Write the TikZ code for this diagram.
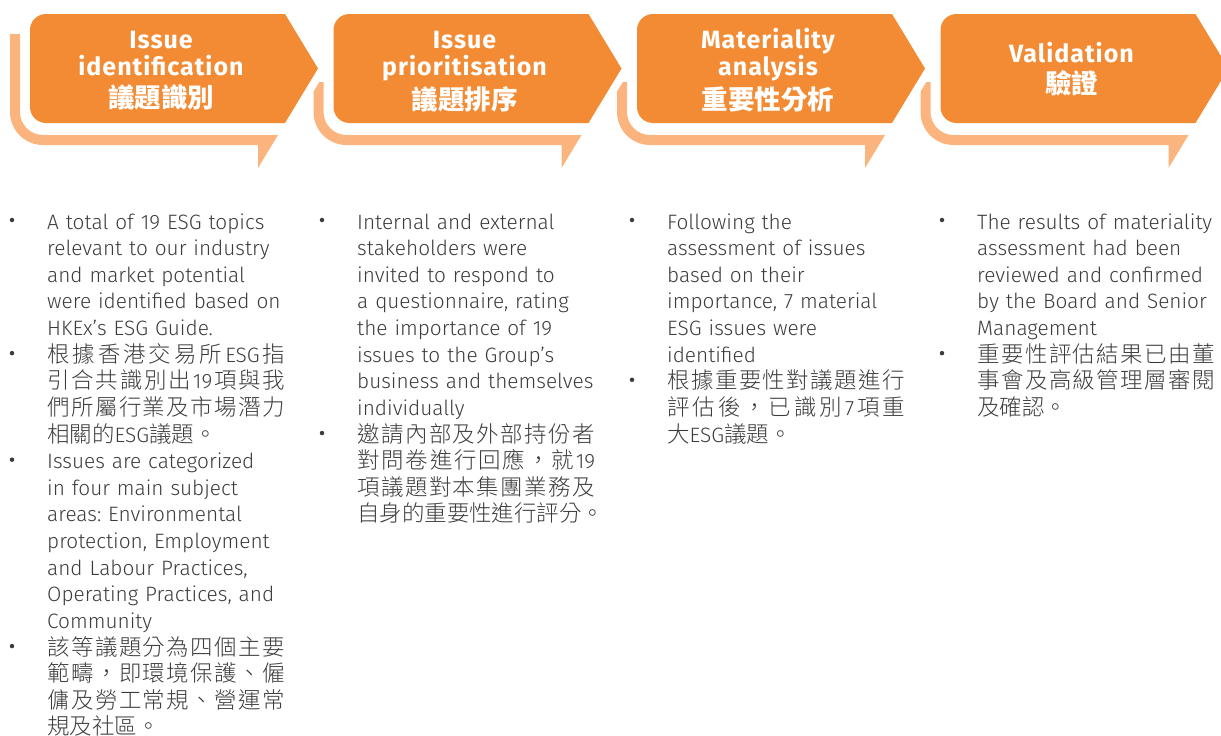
\documentclass[tikz,border=0pt]{standalone}
\usepackage{fontspec}
\IfFontExistsTF{Fira Sans Light}{\newfontfamily\bodyfont{Fira Sans Light}}{\newfontfamily\bodyfont{Fira Sans}}
\IfFontExistsTF{Noto Sans CJK TC Light}{\newfontfamily\bodycjk{Noto Sans CJK TC Light}[Scale=1.08]}{\newfontfamily\bodycjk{Noto Sans CJK TC}[Scale=1.08]}
\newfontfamily\headfont{Fira Sans}[LetterSpace=4]
\newfontfamily\headcjk{Noto Sans CJK TC}[Scale=1.06]
\definecolor{mainor}{RGB}{243,139,52}
\definecolor{lightor}{RGB}{251,180,125}
\definecolor{bodygray}{RGB}{60,60,60}
\frenchspacing
\newcommand\lat{\bodyfont}
\newcommand\cj[1]{{\bodycjk #1}}
\makeatletter
\newcommand\cjkline[1]{\leavevmode\hbox to \linewidth{\@tempswafalse\@tfor\cjktok:=#1\do{\if@tempswa\hfil\fi\@tempswatrue{\bodycjk\cjktok}}}}
\makeatother
\tikzset{
  bodytext/.style={anchor=base west, inner sep=0pt, text width=238pt, align=left, text=bodygray, font=\bodyfont\fontsize{20.8}{26.63}\selectfont\frenchspacing},
  bul/.style={circle, fill=bodygray, inner sep=0pt, minimum size=4.5pt},
  headtext/.style={anchor=base, inner sep=0pt, text width=260pt, align=center, text=white, font=\headfont\bfseries\fontsize{25}{27}\selectfont},
  mainshape/.style={fill=mainor},
  halo/.style={draw=white, line width=16pt, line join=round},
  lshape/.style={fill=lightor}
}
\begin{document}
\begin{tikzpicture}[x=1pt,y=1pt]
\useasboundingbox (0,0) rectangle (1221,-736);
% light L-shaped bars
\foreach \X/\T in {30/34, 333.5/82, 637/82, 940.5/82}{
  \path[lshape] ({\X-20},-\T) -- ({\X-20},-112) arc(180:270:33) -- ({\X+228},-145) -- ({\X+228},-168) -- ({\X+248},-135) -- ({\X+13},-135) arc(270:180:23) -- ({\X-10},-\T) -- cycle;
}
% main arrow shapes
\foreach \X in {30, 333.5, 637, 940.5}{
  \path[halo] ({\X+288},-68.5) -- ({\X+255},-14) -- ({\X+16},-14) arc(90:180:16) -- (\X,-107) arc(180:270:16) -- ({\X+255},-123) -- cycle;
  \path[mainshape] ({\X+288},-68.5) -- ({\X+255},-14) -- ({\X+16},-14) arc(90:180:16) -- (\X,-107) arc(180:270:16) -- ({\X+255},-123) -- cycle;
}
% headings
\node[headtext] (h1) at (161,-48) {Issue\\identification\\[5pt]{\headcjk 議題識別}};
\node[headtext] (h2) at (464.5,-48) {Issue\\prioritisation\\[5pt]{\headcjk 議題排序}};
\node[headtext] (h3) at (768,-48) {Materiality\\analysis\\[5pt]{\headcjk 重要性分析}};
\node[headtext] (h4) at (1071.5,-62) {Validation\\[4pt]{\headcjk 驗證}};
% column 1
\node[bul] (b11) at (12,-220) {};
\node[bodytext] (t11) at (47,-229) {A total of 19 ESG topics\\relevant to our industry\\and market potential\\were identified based on\\HKEx’s ESG Guide.};
\node[bul] (b12) at (12,-353.15) {};
\node[bodytext] (t12) at (47,-362.15) {\cjkline{根據香港交易所{\lat ESG}指}\\\cjkline{引合共識別出{\lat 19}項與我}\\\cjkline{們所屬行業及市場潛力}\\\cj{相關的}ESG\cj{議題。}};
\node[bul] (b13) at (12,-459.67) {};
\node[bodytext] (t13) at (47,-468.67) {Issues are categorized\\in four main subject\\areas: Environmental\\protection, Employment\\and Labour Practices,\\Operating Practices, and\\Community};
\node[bul] (b14) at (12,-646.08) {};
\node[bodytext] (t14) at (47,-655.08) {\cjkline{該等議題分為四個主要}\\\cjkline{範疇，即環境保護、僱}\\\cjkline{傭及勞工常規、營運常}\\\cj{規及社區。}};
% column 2
\node[bul] (b21) at (322,-220) {};
\node[bodytext] (t21) at (357,-229) {Internal and external\\stakeholders were\\invited to respond to\\a questionnaire, rating\\the importance of 19\\issues to the Group’s\\business and themselves\\individually};
\node[bul] (b22) at (322,-433.04) {};
\node[bodytext] (t22) at (357,-442.04) {\cjkline{邀請內部及外部持份者}\\\cjkline{對問卷進行回應，就{\lat 19}}\\\cjkline{項議題對本集團業務及}\\\cj{自身的重要性進行評分。}};
% column 3
\node[bul] (b31) at (632,-220) {};
\node[bodytext] (t31) at (667,-229) {Following the\\assessment of issues\\based on their\\importance, 7 material\\ESG issues were\\identified};
\node[bul] (b32) at (632,-379.78) {};
\node[bodytext] (t32) at (667,-388.78) {\cjkline{根據重要性對議題進行}\\\cjkline{評估後，已識別{\lat 7}項重}\\\cj{大}ESG\cj{議題。}};
% column 4
\node[bul] (b41) at (942,-220) {};
\node[bodytext] (t41) at (977,-229) {The results of materiality\\assessment had been\\reviewed and confirmed\\by the Board and Senior\\Management};
\node[bul] (b42) at (942,-353.15) {};
\node[bodytext] (t42) at (977,-362.15) {\cjkline{重要性評估結果已由董}\\\cjkline{事會及高級管理層審閱}\\\cj{及確認。}};
\end{tikzpicture}
\end{document}
